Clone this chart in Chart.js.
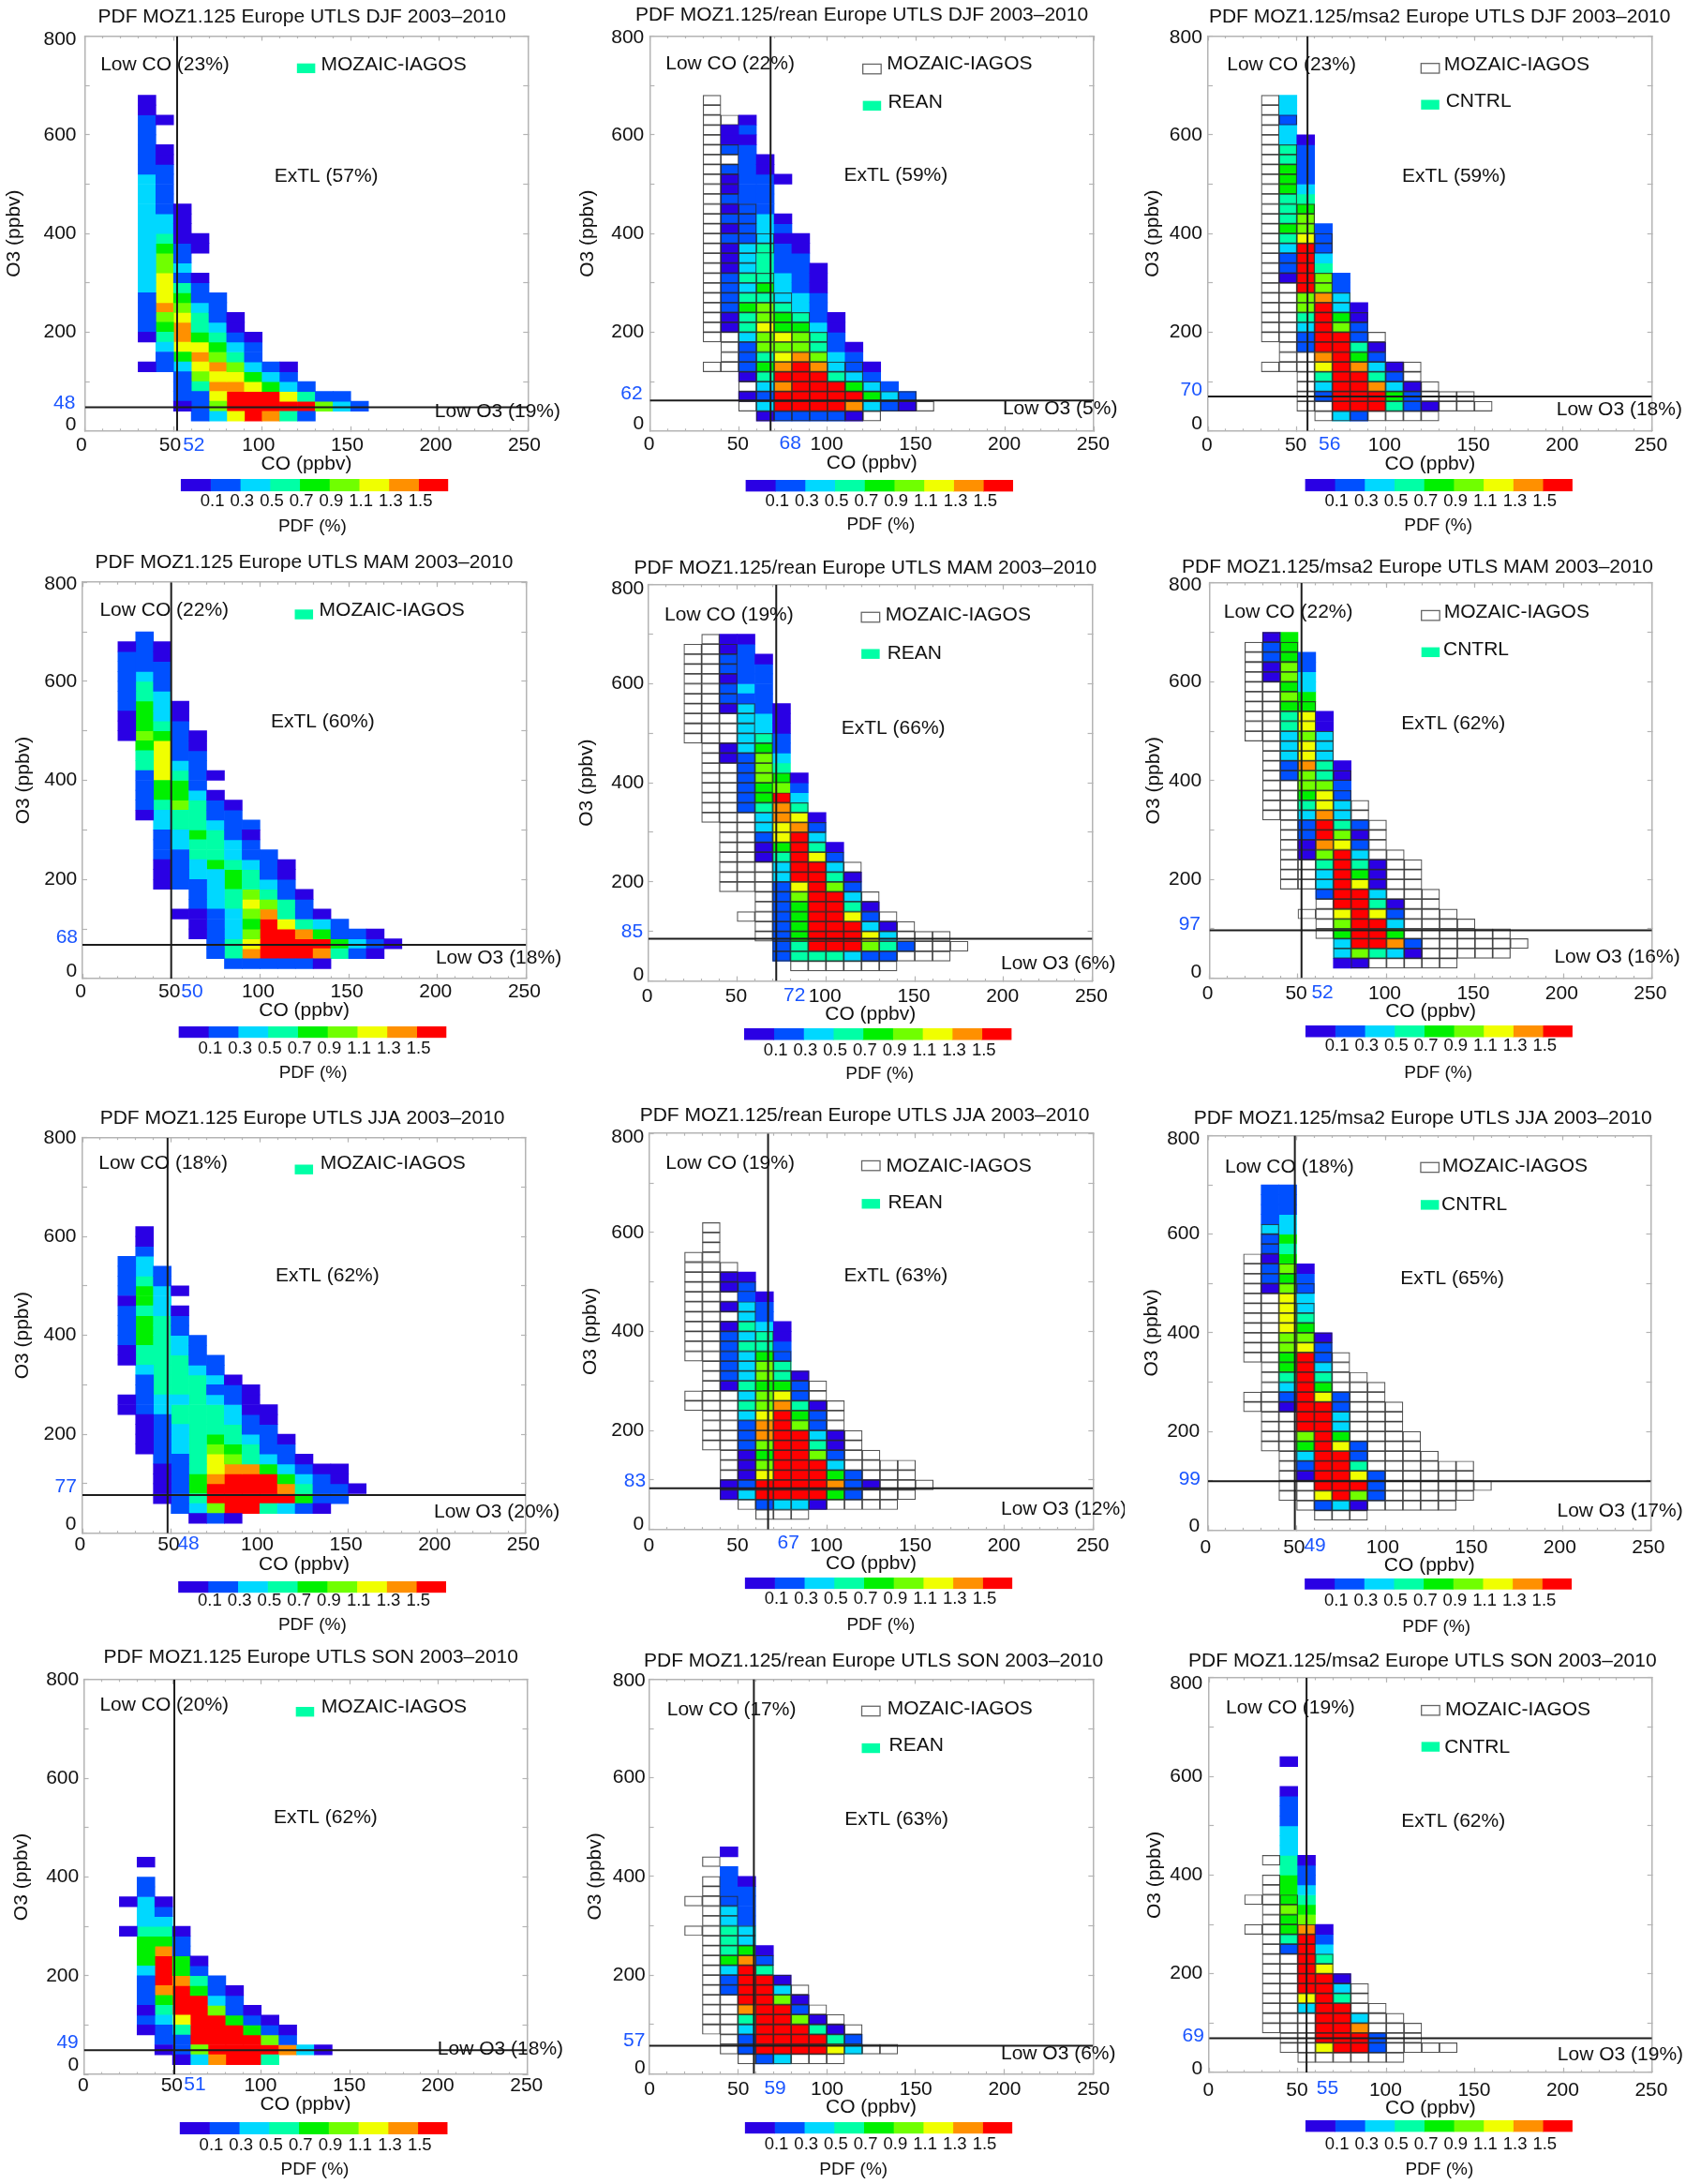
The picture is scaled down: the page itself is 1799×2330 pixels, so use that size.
<!DOCTYPE html>
<html>
<head>
<meta charset="utf-8">
<title>PDF MOZ1.125 Europe UTLS</title>
<script src="https://cdn.jsdelivr.net/npm/chart.js@4"></script>
<style>
html,body{margin:0;padding:0;background:#fff}
#page{position:relative;width:1799px;height:2330px;background:#fff;overflow:hidden}
canvas{position:absolute}
</style>
</head>
<body>
<div id="page"></div>
<script>
// ---------- DATA: [CO bin lower edge, O3 lower edge of first cell, colour class per 20 ppbv cell going upward (0 = empty)] ----------
const djfObs = [[30,120,"1001222233333333333322222211"],[40,120,"22345687776654332222211001"],[50,40,"122235788765423221111"],[60,20,"2224678754432210011"],[70,20,"3678786543222"],[80,20,"79987643211"],[90,20,"999753221"],[100,20,"899532"],[110,20,"497321"],[120,20,"2942"],[130,40,"62"],[140,40,"32"],[150,40,"2"]];
const djfRean = [[40,200,"112222111212121120211"],[50,60,"10122234454343332222222222121"],[60,20,"132345466766454444333222211"],[70,20,"299898767554333222121000"+"1"],[80,20,"2999998665433222211"],[90,20,"2999986443222111"],[100,20,"29994332211"],[110,20,"18953221"],[120,40,"35321"],[130,40,"232"],[140,40,"12"]];
const djfMsa = [[40,300,"12234"+"5"+"444"+"555"+"44"+"33"+"2"+"33"],[50,160,"2234"+"66"+"99999"+"7"+"66"+"5"+"4"+"3"+"2222"+"1"],[60,60,"2"+"3"+"4"+"7"+"8"+"99999"+"8"+"66"+"4"+"3"+"222"],[70,20,"3"+"99999999"+"6"+"5"+"33"+"22"],[80,20,"2"+"9999"+"8"+"5"+"4"+"22"+"11"],[90,40,"998"+"4"+"3"+"2"+"1"],[100,40,"45321"],[110,40,"221"],[120,40,"1"]];
const mamObs = [[20,480,"1112222221"],[30,320,"1222244"+"5"+"6"+"555"+"44"+"3"+"2222"],[40,180,"111222"+"33"+"4"+"55"+"7777"+"5"+"4"+"333"+"222"+"11"],[50,120,"100"+"2222"+"33"+"44"+"6"+"55"+"4"+"3"+"2222"+"11"],[60,80,"111"+"222"+"33"+"44"+"5"+"444"+"3"+"2222"+"11"],[70,40,"22222"+"3333"+"5"+"444"+"3"+"22"+"1"+"0"+"1"],[80,20,"2"+"44"+"333"+"44"+"55"+"4"+"33"+"222"+"1"],[90,20,"2"+"8"+"7"+"6"+"5"+"6"+"7"+"6"+"44"+"3"+"22"+"1"+"2"],[100,20,"2"+"9999"+"8"+"6"+"4"+"3"+"222"],[110,20,"2"+"999"+"7"+"44"+"22"+"11"],[120,20,"2"+"99"+"8"+"4"+"22"+"1"],[130,20,"189531"],[140,40,"4522"],[150,40,"232"],[160,40,"121"],[170,60,"1"]];
const mamRean = [[40,440,"11"+"000"+"1"+"22"+"1"+"22"+"11"],[50,340,"222222"+"33333"+"2"+"3"+"2222"+"1"],[60,240,"11"+"2"+"33"+"4"+"55"+"666"+"5"+"4"+"33"+"22222"+"1"],[70,40,"22222222"+"33"+"4"+"5"+"77"+"88"+"9"+"6"+"5"+"4"+"3"+"22"+"111"],[80,40,"44"+"5555"+"6"+"7"+"99999"+"8"+"7"+"4"+"3"+"2"+"1"],[90,40,"4"+"999999999"+"7"+"4"+"3"+"2"+"1"],[100,40,"4"+"999999"+"6"+"4"+"3"+"2"+"1"],[110,40,"3"+"999"+"7"+"4"+"3"+"2"+"1"],[120,40,"267321"],[130,40,"2431"],[140,60,"2"]];
const mamMsa = [[30,600,"11221"],[40,400,"22"+"333"+"44"+"5"+"6"+"5"+"66"+"555"],[50,240,"11"+"22"+"3"+"4"+"5"+"66"+"8"+"77"+"6"+"77"+"55"+"33"+"22"],[60,160,"2"+"33"+"4"+"6"+"8"+"99"+"8"+"77"+"6"+"44"+"333"+"11"],[70,20,"1"+"33"+"5"+"6"+"7"+"999999"+"7"+"6"+"4"+"33"+"22"+"11"],[80,20,"1"+"6"+"999999"+"7"+"5"+"4"+"3"+"2"+"1"+"2"],[90,40,"4"+"999"+"7"+"4"+"3"+"111"],[100,40,"385321"],[110,40,"12"]];
const jjaObs = [[20,240,"11"+"000"+"11"+"2222"+"1"+"2222"],[30,160,"1111"+"2222"+"3"+"44"+"555"+"4"+"55"+"4"+"33"+"2"+"11"],[40,60,"1111"+"22222"+"33"+"44444444"+"333"+"22"],[50,40,"222222"+"333"+"44"+"3"+"4444"+"33"+"22"+"1"+"0"+"1"],[60,20,"1"+"3"+"4"+"55"+"4444444444"+"3"+"222"],[70,20,"2"+"6"+"99"+"8"+"77"+"6"+"5"+"444"+"3"+"2"+"3"+"22"],[80,20,"1"+"9999"+"8"+"6"+"5"+"44"+"33"+"22"+"1"],[90,40,"9999"+"8"+"44"+"3"+"22"+"111"],[100,40,"4"+"999"+"5"+"3"+"222"+"11"],[110,40,"39853221"],[120,40,"254321"],[130,40,"12221"],[140,60,"2211"],[150,80,"1"]];
const jjaRean = [[40,60,"11"+"000000000"+"1"+"22222"+"1"+"0"+"1"+"0"+"11"],[50,60,"3"+"2"+"111"+"222"+"3"+"4"+"3"+"4"+"333"+"4"+"3"+"4"+"33"+"22"+"1"],[60,40,"2"+"99"+"7"+"6"+"5"+"6"+"88"+"7"+"66"+"5"+"66"+"5"+"44"+"3"+"22"+"1"],[70,40,"3"+"999999999"+"8"+"7"+"5"+"44"+"22"+"11"],[80,40,"3"+"9999999"+"6"+"5"+"4"+"22"+"1"],[90,40,"1"+"9999"+"6"+"4"+"3"+"22"+"1"],[100,60,"5853211"],[110,60,"222"],[120,80,"1"]];
const jjaMsa = [[30,480,"1"+"22"+"1"+"22"+"3"+"2222"],[40,240,"1"+"2"+"3"+"4"+"55"+"66"+"7777"+"6"+"5"+"6"+"5"+"4"+"5"+"33"+"222"],[50,100,"1"+"2"+"3"+"5"+"6"+"99999999"+"7"+"6"+"5"+"4"+"33"+"22"+"1"],[60,40,"2"+"7"+"999999999"+"7"+"5"+"4"+"3"+"22"+"1"],[70,40,"3"+"99999"+"7"+"5"+"33"+"22"],[80,40,"1697422"],[90,60,"222"]];
const sonObs = [[20,280,"1001"],[30,80,"1"+"2"+"1"+"222"+"3"+"555"+"4"+"333"+"22"+"0"+"1"],[40,40,"1"+"22"+"3"+"4"+"5"+"8"+"999"+"8"+"5"+"4"+"3"+"2"+"1"],[50,20,"1"+"22"+"4"+"7"+"999"+"8"+"55"+"22"+"1"],[60,20,"3"+"6"+"99999"+"5"+"4"+"2"+"1"],[70,20,"8"+"9999"+"6"+"3"+"22"],[80,20,"9999"+"5"+"22"+"1"],[90,20,"999521"],[100,20,"49621"],[110,40,"821"],[120,40,"3"],[130,40,"1"]];
const sonRean = [[40,160,"22"+"3"+"5"+"444"+"33"+"2222"+"0"+"1"],[50,40,"22"+"3"+"4"+"8"+"9999"+"8"+"5"+"33"+"2222"+"1"],[60,20,"2"+"99999999"+"4"+"2"+"1"],[70,20,"3"+"99999"+"6"+"3"+"1"],[80,40,"999621"],[90,40,"9941"],[100,40,"741"],[110,40,"32"]];
const sonMsa = [[40,240,"2"+"4"+"55"+"6"+"555"+"44"+"333"+"222"+"1"+"00"+"1"],[50,120,"3"+"7"+"999999"+"8"+"6"+"5"+"4"+"3"+"22"+"1"],[60,40,"7"+"9999999"+"7"+"4"+"3"+"2"+"1"],[70,40,"99999"+"4"+"3"+"1"],[80,40,"9983"],[90,40,"22"]];

const panelTitles = [
 "PDF MOZ1.125 Europe UTLS DJF 2003–2010","PDF MOZ1.125/rean Europe UTLS DJF 2003–2010","PDF MOZ1.125/msa2 Europe UTLS DJF 2003–2010",
 "PDF MOZ1.125 Europe UTLS MAM 2003–2010","PDF MOZ1.125/rean Europe UTLS MAM 2003–2010","PDF MOZ1.125/msa2 Europe UTLS MAM 2003–2010",
 "PDF MOZ1.125 Europe UTLS JJA 2003–2010","PDF MOZ1.125/rean Europe UTLS JJA 2003–2010","PDF MOZ1.125/msa2 Europe UTLS JJA 2003–2010",
 "PDF MOZ1.125 Europe UTLS SON 2003–2010","PDF MOZ1.125/rean Europe UTLS SON 2003–2010","PDF MOZ1.125/msa2 Europe UTLS SON 2003–2010"];
const panelCells = [djfObs,djfRean,djfMsa,mamObs,mamRean,mamMsa,jjaObs,jjaRean,jjaMsa,sonObs,sonRean,sonMsa];
const outlineCells = [null,djfObs,djfObs,null,mamObs,mamObs,null,jjaObs,jjaObs,null,sonObs,sonObs];
const columnLegend = ["MOZAIC-IAGOS","REAN","CNTRL"];
const coThreshold = [52,68,56,50,72,52,48,67,49,51,59,55];
const o3Threshold = [48,62,70,68,85,97,77,83,99,49,57,69];
const lowCoPct = [23,22,23,22,19,22,18,19,18,20,17,19];
const extlPct  = [57,59,59,60,66,62,62,63,65,62,63,62];
const lowO3Pct = [19,5,18,18,6,16,20,12,17,18,6,19];
const pdfEdges = [-0.1,0.1,0.3,0.5,0.7,0.9,1.1,1.3,1.5,1.7];
const pdfTicks = [0.1,0.3,0.5,0.7,0.9,1.1,1.3,1.5];

// ---------- STYLE / LAYOUT (measured in the 1568-px crops of each panel) ----------
const levelColors = ["#2a00e4","#0050ff","#00d8ff","#00ffa6","#00f000","#70ff00","#f0ff00","#ff9000","#ff0000"];
const INK = "#111", BLUE = "#1a55ff", FRAME = "#b4b4b4";
const FONT = '"Liberation Sans", Arial, sans-serif';
const cellX = [0,600,1200], cellW = [600,600,599];
const cellY = [0,585,1170,1750], cellH = [580,585,580,580];
const ZOOM = 1568;
const layouts = [
 {l:237,r:1472,t:104,b:1243,tc:842,ty:50,lc:280,ly:188,sw:828,s1:183,tx1:895,ty1:188,ex:765,ey:510,ox:1212,oy:1188,bx:510,by:1285,cx:210,cy:1162,cl:504,cr:1250,ct:1381,cb:1417,ply:1447,pc:871,py:1518,coy:1340,ytx:40,y0:1225,y8:113,gap:24,xly:1285,xo:-10},
 {l:244,r:1482,t:104,b:1243,tc:835,ty:44,lc:288,ly:185,sw:838,s1:185,tx1:905,ty1:185,s2:291,tx2:908,ty2:295,ex:785,ey:507,ox:1228,oy:1178,bx:605,by:1280,cx:224,cy:1135,cl:511,cr:1257,ct:1383,cb:1418,ply:1445,pc:888,py:1513,coy:1335,ytx:72,y0:1222,y8:110,gap:16,xly:1283,xo:-2},
 {l:233,r:1473,t:104,b:1243,tc:880,ty:50,lc:286,ly:188,sw:828,s1:183,tx1:892,ty1:187,s2:288,tx2:897,ty2:293,ex:775,ey:510,ox:1206,oy:1183,bx:542,by:1282,cx:217,cy:1124,cl:504,cr:1251,ct:1381,cb:1417,ply:1447,pc:876,py:1515,coy:1338,ytx:78,y0:1222,y8:110,gap:16,xly:1285,xo:-3},
 {l:230,r:1467,t:97,b:1230,tc:848,ty:42,lc:278,ly:178,sw:822,s1:175,tx1:890,ty1:178,ex:755,ey:497,ox:1215,oy:1172,bx:505,by:1268,cx:217,cy:1112,cl:498,cr:1245,ct:1367,cb:1400,ply:1430,pc:873,py:1500,coy:1323,ytx:66,y0:1210,y8:103,gap:15,xly:1268,xo:-5},
 {l:240,r:1478,t:104,b:1237,tc:845,ty:58,lc:285,ly:192,sw:834,s1:183,tx1:901,ty1:190,s2:288,tx2:906,ty2:302,ex:778,ey:514,ox:1223,oy:1187,bx:617,by:1280,cx:225,cy:1098,cl:507,cr:1253,ct:1373,cb:1406,ply:1437,pc:885,py:1502,coy:1332,ytx:68,y0:1220,y8:117,gap:12,xly:1282,xo:-3},
 {l:237,r:1473,t:99,b:1229,tc:818,ty:55,lc:277,ly:184,sw:829,s1:178,tx1:892,ty1:184,s2:283,tx2:890,ty2:291,ex:773,ey:502,ox:1200,oy:1170,bx:522,by:1272,cx:212,cy:1075,cl:505,cr:1251,ct:1365,cb:1398,ply:1424,pc:876,py:1500,coy:1325,ytx:82,y0:1212,y8:105,gap:22,xly:1273,xo:-5},
 {l:230,r:1466,t:118,b:1259,tc:843,ty:62,lc:275,ly:193,sw:822,s1:196,tx1:893,ty1:193,ex:768,ey:518,ox:1210,oy:1198,bx:495,by:1290,cx:214,cy:1125,cl:497,cr:1244,ct:1397,cb:1431,ply:1455,pc:871,py:1525,coy:1350,ytx:62,y0:1233,y8:120,gap:17,xly:1292,xo:-7},
 {l:242,r:1480,t:106,b:1248,tc:843,ty:55,lc:288,ly:192,sw:835,s1:185,tx1:903,ty1:200,s2:295,tx2:908,ty2:306,ex:785,ey:518,ox:1223,oy:1190,bx:600,by:1288,cx:233,cy:1110,cl:509,cr:1255,ct:1387,cb:1420,ply:1450,pc:888,py:1525,coy:1348,ytx:80,y0:1232,y8:118,gap:14,xly:1295,xo:-1},
 {l:233,r:1470,t:112,b:1250,tc:833,ty:62,lc:280,ly:202,sw:827,s1:190,tx1:887,ty1:201,s2:298,tx2:885,ty2:312,ex:770,ey:524,ox:1208,oy:1196,bx:501,by:1295,cx:212,cy:1103,cl:503,cr:1249,ct:1389,cb:1421,ply:1453,pc:871,py:1530,coy:1353,ytx:76,y0:1238,y8:122,gap:23,xly:1300,xo:-7},
 {l:234,r:1470,t:113,b:1252,tc:867,ty:50,lc:278,ly:188,sw:825,s1:192,tx1:896,ty1:193,ex:763,ey:511,ox:1220,oy:1180,bx:513,by:1282,cx:219,cy:1160,cl:501,cr:1248,ct:1390,cb:1425,ply:1458,pc:878,py:1527,coy:1340,ytx:60,y0:1225,y8:115,gap:14,xly:1285,xo:-2},
 {l:242,r:1480,t:112,b:1250,tc:868,ty:60,lc:292,ly:201,sw:835,s1:190,tx1:906,ty1:198,s2:297,tx2:911,ty2:302,ex:787,ey:518,ox:1223,oy:1194,bx:563,by:1292,cx:231,cy:1155,cl:509,cr:1255,ct:1389,cb:1423,ply:1455,pc:812,py:1527,coy:1348,ytx:92,y0:1233,y8:116,gap:10,xly:1295,xo:1},
 {l:236,r:1473,t:108,b:1246,tc:832,ty:60,lc:283,ly:195,sw:829,s1:188,tx1:895,ty1:201,s2:293,tx2:893,ty2:309,ex:773,ey:521,ox:1209,oy:1196,bx:536,by:1292,cx:222,cy:1141,cl:505,cr:1251,ct:1383,cb:1418,ply:1455,pc:879,py:1528,coy:1350,ytx:84,y0:1235,y8:124,gap:18,xly:1298,xo:-2}
];

// ---------- BUILD ----------
function cellsOfLevel(columns, level){
  const out = [];
  for (const [co, start, levels] of columns){
    [...levels].forEach((ch, i) => {
      const v = Number(ch);
      if (v === 0) return;
      if (level === null || v === level) out.push({x: co + 5, y: [start + i*20, start + (i+1)*20]});
    });
  }
  return out;
}

const page = document.getElementById('page');
function addCanvas(x, y, w, h){
  const c = document.createElement('canvas');
  c.width = w; c.height = h;
  c.style.left = x + 'px'; c.style.top = y + 'px';
  c.style.width = w + 'px'; c.style.height = h + 'px';
  page.appendChild(c);
  return c;
}

const moveTitle = {
  id: 'moveTitle',
  afterLayout(chart, args, opts){
    const tb = chart.titleBlock;
    const dx = opts.center - (tb.left + tb.right)/2;
    tb.left += dx; tb.right += dx;
  }
};

panelTitles.forEach((title, p) => {
  const col = p % 3, row = Math.floor(p/3);
  const W = cellW[col], H = cellH[row];
  const fx = ZOOM/W, fy = ZOOM/H;
  const L = layouts[p];
  const X = z => z/fx, Y = z => z/fy;
  const plotL = X(L.l), plotR = X(L.r), plotT = Y(L.t), plotB = Y(L.b);
  const tickFs = 21, tickLh = tickFs*1.2, longTick = -5, shortTick = -2.5;

  const datasets = [];
  datasets.push({type:'line', label:'Low CO threshold', data:[{x:coThreshold[p],y:0},{x:coThreshold[p],y:800}], borderColor:'#1c1c1c', borderWidth:2, pointRadius:0, order:0});
  datasets.push({type:'line', label:'Low O3 threshold', data:[{x:0,y:o3Threshold[p]},{x:250,y:o3Threshold[p]}], borderColor:'#1c1c1c', borderWidth:2, pointRadius:0, order:0});
  if (outlineCells[p]) datasets.push({label:columnLegend[0], data:cellsOfLevel(outlineCells[p], null), backgroundColor:'rgba(0,0,0,0)', borderColor:'rgba(40,40,40,0.8)', borderWidth:0.55, order:1});
  levelColors.forEach((color, k) => {
    datasets.push({label:'PDF class '+(k+1), data:cellsOfLevel(panelCells[p], k+1), backgroundColor:color, borderWidth:0, order:2});
  });

  const frameAxis = (axis, position, step, tick, isBorder) => ({
    type:'linear', axis, position, min:0, max: axis==='x'?250:800, offset:false, weight:-1,
    afterFit(s){ if (axis==='x') s.height = 0; else s.width = 0; },
    border:{display:isBorder, color:FRAME, width:1.5},
    grid:{drawOnChartArea:false, drawTicks:true, tickLength:tick, color:FRAME, tickColor:FRAME, tickWidth:1.2, offset:false},
    ticks:{display:false, stepSize:step, autoSkip:false}
  });

  const shift0 = Math.abs(Y(L.b) - Y(L.y0));
  const shift8 = Math.abs(Y(L.y8) - Y(L.t));

  const textPlugin = {
    id:'panelText',
    afterDraw(chart){
      const g = chart.ctx;
      g.save();
      g.fillStyle = INK;
      g.textBaseline = 'middle';
      g.textAlign = 'left';
      g.font = '21px ' + FONT;
      g.fillText('Low CO ('+lowCoPct[p]+'%)', X(L.lc), Y(L.ly));
      g.fillText('ExTL ('+extlPct[p]+'%)', X(L.ex), Y(L.ey));
      g.fillText('Low O3 ('+lowO3Pct[p]+'%)', X(L.ox), Y(L.oy));
      const swW = X(51), swH = Y(28);
      if (col === 0){
        g.fillStyle = levelColors[3];
        g.fillRect(X(L.sw), Y(L.s1), swW, swH);
        g.fillStyle = INK;
        g.fillText(columnLegend[0], X(L.tx1), Y(L.ty1));
      } else {
        g.strokeStyle = '#666'; g.lineWidth = 1.3;
        g.strokeRect(X(L.sw), Y(L.s1), swW, swH);
        g.fillStyle = levelColors[3];
        g.fillRect(X(L.sw), Y(L.s2), swW, swH);
        g.fillStyle = INK;
        g.fillText(columnLegend[0], X(L.tx1), Y(L.ty1));
        g.fillText(columnLegend[col], X(L.tx2), Y(L.ty2));
      }
      g.fillStyle = BLUE;
      g.fillText(String(coThreshold[p]), X(L.bx), Y(L.by));
      g.textAlign = 'right';
      g.fillText(String(o3Threshold[p]), X(L.cx), Y(L.cy));
      g.restore();
    }
  };

  new Chart(addCanvas(cellX[col], cellY[row], W, H), {
    type:'bar',
    data:{datasets},
    options:{
      responsive:false, animation:false, events:[], devicePixelRatio:1,
      indexAxis:'x',
      layout:{padding:{left:0, top:0, bottom:0, right:W - plotR}},
      datasets:{bar:{grouped:false, barThickness:(plotR-plotL)/25, borderSkipped:false}},
      plugins:{
        legend:{display:false}, tooltip:{enabled:false},
        moveTitle:{center:X(L.tc)},
        title:{display:true, text:title, color:INK, font:{family:FONT, size:21, weight:'normal'},
          padding:{top:Y(L.ty)-tickLh/2, bottom:plotT-Y(L.ty)-tickLh/2}}
      },
      scales:{
        x:{type:'linear', position:'bottom', min:0, max:250, offset:false, weight:10,
          afterFit(s){ s.height = H - plotB; },
          border:{display:true, color:FRAME, width:1.5},
          grid:{drawOnChartArea:false, tickLength:longTick, color:FRAME, tickColor:FRAME, tickWidth:1.2, offset:false},
          ticks:{stepSize:50, autoSkip:false, maxRotation:0, color:INK, labelOffset:X(L.xo),
            font:{family:FONT, size:tickFs}, padding:Y(L.xly)-plotB-tickLh/2-longTick},
          title:{display:true, text:'CO (ppbv)', color:INK, font:{family:FONT, size:tickFs},
            padding:{top:0, bottom:H - Y(L.coy) - tickLh/2}}
        },
        y:{type:'linear', position:'left', min:0, max:800, weight:10,
          afterFit(s){ s.width = plotL; },
          border:{display:true, color:FRAME, width:1.5},
          grid:{drawOnChartArea:false, tickLength:longTick, color:FRAME, tickColor:FRAME, tickWidth:1.2},
          ticks:{stepSize:100, autoSkip:false, color:INK, padding:X(L.gap)-longTick,
            font(ctx){
              const v = ctx.tick ? ctx.tick.value : -1;
              if (v === 0) return {family:FONT, size:tickFs, lineHeight:(2*shift0)+'px'};
              if (v === 800) return {family:FONT, size:tickFs, lineHeight:(2*shift8)+'px'};
              return {family:FONT, size:tickFs};
            },
            callback(v){
              if (v === 0) return ['0',''];
              if (v === 800) return ['','800'];
              return v % 200 === 0 ? String(v) : '';
            }},
          title:{display:true, text:'O3 (ppbv)', color:INK, font:{family:FONT, size:tickFs},
            padding:{top:X(L.ytx)-tickLh/2, bottom:0}}
        },
        xTop:frameAxis('x','top',50,longTick,true),
        yRight:frameAxis('y','right',100,longTick,true),
        xMinor:frameAxis('x','bottom',10,shortTick,false),
        xTopMinor:frameAxis('x','top',10,shortTick,false)
      }
    },
    plugins:[moveTitle, textPlugin]
  });

  const barTop = Math.round(Y(L.ct));
  const barCanvasH = H - barTop;
  const barL = X(L.cl), barR = X(L.cr);
  const barPlotH = Y(L.cb) - barTop;
  const pdfFs = 19, pdfLh = pdfFs*1.2, cbFs = 18.5, cbLh = cbFs*1.2;
  const pdfTitleY = Y(L.py) - barTop;
  new Chart(addCanvas(cellX[col], cellY[row] + barTop, W, barCanvasH), {
    type:'bar',
    data:{labels:['PDF'], datasets: levelColors.map((color,k) => ({
      label:'class '+(k+1), data:[[pdfEdges[k], pdfEdges[k+1]]], backgroundColor:color, borderWidth:0
    }))},
    options:{
      responsive:false, animation:false, events:[], devicePixelRatio:1, indexAxis:'y',
      layout:{padding:{left:barL, right:W-barR, top:0, bottom:0}},
      datasets:{bar:{grouped:false, barPercentage:1, categoryPercentage:1}},
      plugins:{
        legend:{display:false}, tooltip:{enabled:false},
        moveTitle:{center:X(L.pc)},
        title:{display:true, position:'bottom', text:'PDF (%)', color:INK, font:{family:FONT, size:pdfFs, weight:'normal'},
          padding:{top:0, bottom:barCanvasH - pdfTitleY - pdfLh/2}}
      },
      scales:{
        x:{type:'linear', position:'bottom', min:-0.1, max:1.7,
          afterBuildTicks(s){ s.ticks = pdfTicks.map(value => ({value})); },
          afterFit(s){ s.height = (pdfTitleY - pdfLh/2) - barPlotH; },
          border:{display:false},
          grid:{display:false, drawTicks:false},
          ticks:{autoSkip:false, maxRotation:0, color:INK, font:{family:FONT, size:cbFs},
            padding:Y(L.ply)-Y(L.cb)-cbLh/2, labelOffset:2,
            callback(v){ return Number(v).toFixed(1); }}
        },
        y:{type:'category', display:false}
      }
    },
    plugins:[moveTitle]
  });
});
</script>
</body>
</html>
